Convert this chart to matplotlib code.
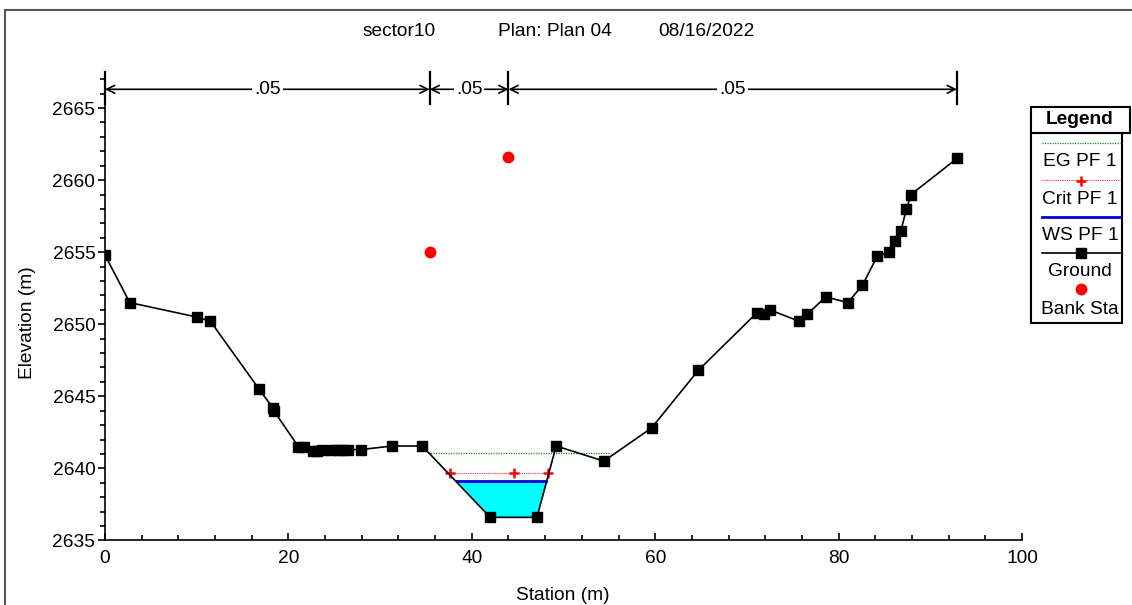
import numpy as np
import matplotlib
matplotlib.use("Agg")
import matplotlib.pyplot as plt
from matplotlib.lines import Line2D
from matplotlib.patches import Rectangle
from matplotlib.ticker import MultipleLocator

plt.rcParams['font.family'] = ['Liberation Sans', 'DejaVu Sans']
FS = 13.8

# ground profile (station m, elevation m)
station = [0.0, 2.7, 10.0, 11.5, 16.8, 18.3, 18.4, 21.1, 21.7, 22.7, 23.1, 23.7,
           24.7, 25.4, 25.8, 26.5, 27.9, 31.3, 34.6, 42.0, 47.1, 49.2, 54.4, 59.6,
           64.7, 71.1, 71.9, 72.5, 75.7, 76.6, 78.6, 81.0, 82.6, 84.2, 85.5, 86.1,
           86.8, 87.4, 87.9, 92.9]
elev = [2654.8, 2651.5, 2650.5, 2650.2, 2645.5, 2644.2, 2644.0, 2641.5, 2641.5,
        2641.2, 2641.2, 2641.3, 2641.3, 2641.3, 2641.3, 2641.3, 2641.3, 2641.55,
        2641.55, 2636.6, 2636.6, 2641.55, 2640.5, 2642.8, 2646.8, 2650.8, 2650.7,
        2651.0, 2650.2, 2650.7, 2651.9, 2651.5, 2652.7, 2654.7, 2655.0, 2655.8,
        2656.5, 2658.0, 2659.0, 2661.5]

# bank stations
bank_sta = [35.4, 44.0]
bank_elev = [2655.0, 2661.6]

# water surfaces
eg_sta = [35.2, 55.2]
eg_elev = 2641.05
crit_sta = [37.6, 44.6, 48.3]
crit_elev = 2639.65
ws_sta = [38.4, 48.1]
ws_elev = 2639.1

# manning n breaks
n_sta = [0.0, 35.4, 44.0, 92.9]
n_val = ['.05', '.05', '.05']

W, H = 1132, 605
fig = plt.figure(figsize=(W / 100, H / 100), dpi=100)


def fx(px):
    return px / W


def fy(py):
    return 1 - py / H


ax = fig.add_axes([fx(105), fy(540.4), fx(1022) - fx(105), fy(72) - fy(540.4)])
ax.set_xlim(0, 100)
ax.set_ylim(2635, 2667.5)

sta = np.array(station)
el = np.array(elev)

# water fill
chan = (sta > 30) & (sta < 52)
ax.fill_between(sta, el, ws_elev, where=(el < ws_elev) & chan, interpolate=True,
                color='#00FFFF', lw=0, zorder=1)

ax.plot(eg_sta, [eg_elev] * 2, color='#1a8a1a', lw=0.9, ls=(0, (1, 1)), zorder=2)
ax.plot(crit_sta, [crit_elev] * 3, color='#ff3030', lw=0.8, ls=(0, (1, 1)),
        marker='+', ms=7.5, mew=1.8, mec='red', zorder=3)
ax.plot(ws_sta, [ws_elev] * 2, color='#0000dd', lw=2.0, zorder=3)
ax.plot(station, elev, color='black', lw=1.2, marker='s', ms=6.8, mfc='black',
        mec='black', zorder=4)
ax.plot(bank_sta, bank_elev, ls='none', marker='o', ms=7.5, color='red', zorder=5)

# roughness arrows at the top
y_arr = 2666.3
for s in n_sta:
    ax.plot([s, s], [2665.3, 2667.5], color='black', lw=1.6, clip_on=False, zorder=6)
for i, lab in enumerate(n_val):
    ax.annotate('', xy=(n_sta[i + 1], y_arr), xytext=(n_sta[i], y_arr),
                arrowprops=dict(arrowstyle='<->', lw=1.2, color='black',
                                shrinkA=0, shrinkB=0, mutation_scale=14),
                annotation_clip=False)
    ax.text((n_sta[i] + n_sta[i + 1]) / 2, y_arr, lab, ha='center', va='center',
            fontsize=FS, bbox=dict(facecolor='white', edgecolor='none', pad=1.5),
            zorder=7)

for side in ['top', 'right']:
    ax.spines[side].set_visible(False)
for side in ['left', 'bottom']:
    ax.spines[side].set_linewidth(1.2)

ax.xaxis.set_major_locator(MultipleLocator(20))
ax.xaxis.set_minor_locator(MultipleLocator(4))
ax.yaxis.set_major_locator(MultipleLocator(5))
ax.yaxis.set_minor_locator(MultipleLocator(1))
ax.tick_params(axis='x', which='major', direction='in', length=5, width=1.2,
               labelsize=FS, pad=7)
ax.tick_params(axis='x', which='minor', direction='in', length=3.5, width=1.2)
ax.tick_params(axis='y', which='major', direction='out', length=5, width=1.2,
               labelsize=FS, pad=2)
ax.tick_params(axis='y', which='minor', direction='out', length=3.5, width=1.2)
ax.set_yticks([2635, 2640, 2645, 2650, 2655, 2660, 2665])

fig.text(fx(563), fy(595), 'Station (m)', ha='center', va='center', fontsize=FS)
fig.text(fx(27), fy(323), 'Elevation (m)', ha='center', va='center', fontsize=FS,
         rotation=90)

# title
fig.text(fx(363), fy(32), 'sector10', ha='left', va='center', fontsize=FS)
fig.text(fx(498), fy(32), 'Plan: Plan 04', ha='left', va='center', fontsize=FS)
fig.text(fx(658), fy(32), '08/16/2022', ha='left', va='center', fontsize=FS)

# outer frame
fig.add_artist(Line2D([fx(5), 1], [fy(10), fy(10)], color='#555555', lw=1.5))
fig.add_artist(Line2D([fx(5), fx(5)], [fy(10), 0], color='#555555', lw=1.5))

# legend box
fig.add_artist(Rectangle((fx(1031), fy(133)), fx(1130) - fx(1031), fy(106.5) - fy(133),
                         transform=fig.transFigure, fill=False, ec='black', lw=1.5))
fig.add_artist(Rectangle((fx(1031), fy(323)), fx(1122) - fx(1031), fy(133) - fy(323),
                         transform=fig.transFigure, fill=False, ec='black', lw=1.5))
fig.text(fx(1080), fy(120), 'Legend', ha='center', va='center', fontsize=FS,
         fontweight='bold')
lx = [fx(1042), fx(1120)]
fig.add_artist(Line2D(lx, [fy(143)] * 2, color='#1a8a1a', lw=0.9, ls=(0, (1, 1))))
fig.text(fx(1080), fy(162), 'EG PF 1', ha='center', va='center', fontsize=FS)
fig.add_artist(Line2D(lx, [fy(180)] * 2, color='#ff3030', lw=0.8, ls=(0, (1, 1))))
fig.add_artist(Line2D([fx(1081)], [fy(181)], marker='+', ms=7.5, mew=1.8, color='red'))
fig.text(fx(1080), fy(199), 'Crit PF 1', ha='center', va='center', fontsize=FS)
fig.add_artist(Line2D(lx, [fy(217)] * 2, color='#0000dd', lw=2.0))
fig.text(fx(1080), fy(235), 'WS PF 1', ha='center', va='center', fontsize=FS)
fig.add_artist(Line2D(lx, [fy(253)] * 2, color='black', lw=1.2))
fig.add_artist(Line2D([fx(1081)], [fy(253)], marker='s', ms=6.8, color='black'))
fig.text(fx(1080), fy(272), 'Ground', ha='center', va='center', fontsize=FS)
fig.add_artist(Line2D([fx(1081)], [fy(289)], marker='o', ms=7.5, color='red', ls='none'))
fig.text(fx(1080), fy(309), 'Bank Sta', ha='center', va='center', fontsize=FS)

fig.savefig('out.png', dpi=100)
